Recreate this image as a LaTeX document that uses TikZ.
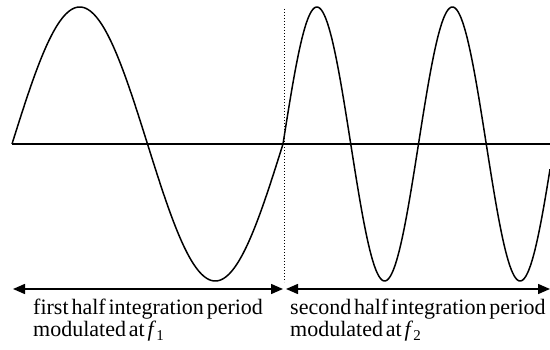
\documentclass[tikz,border=0pt]{standalone}
\usepackage{fontspec}
\setmainfont{Liberation Serif}[WordSpace={0.52,0.1,0.1}]
\usetikzlibrary{arrows.meta}
\tikzset{
  wave/.style={line width=1.5pt, line join=round},
  axisline/.style={line width=1.5pt},
  divider/.style={line width=1pt, dotted},
  span/.style={line width=1.5pt, {Triangle[length=12pt,width=10pt]}-{Triangle[length=12pt,width=10pt]}},
  caption/.style={anchor=base west, align=left, inner sep=0pt,
    font=\fontsize{22}{22}\selectfont}
}
\newcommand{\subidx}[1]{\raisebox{-0.3ex}{\fontsize{15}{15}\selectfont #1}}
\begin{document}
\begin{tikzpicture}[x=1pt,y=-1pt]
\useasboundingbox (0,0) rectangle (550,350);
% axis
\coordinate (axL) at (12,144);
\coordinate (axR) at (550,144);
\draw[axisline] (axL) -- (axR);
% divider
\coordinate (dT) at (284,9);
\coordinate (dB) at (284,282);
\draw[divider] (dT) -- (dB);
% first half: one period
\draw[wave] plot[domain=12:283, samples=200, smooth] (\x, {144-137*sin((\x-12)/271*360)});
% second half: two periods
\draw[wave] plot[domain=283:550, samples=250, smooth] (\x, {144-137*sin((\x-283)/135.5*360)});
% arrows
\coordinate (a1L) at (13,289);
\coordinate (a1R) at (283,289);
\coordinate (a2L) at (286,289);
\coordinate (a2R) at (550,289);
\draw[span] (a1L) -- (a1R);
\draw[span] (a2L) -- (a2R);
% captions
\node[caption] (t1) at (33,337) {first half integration period\\modulated at \textit{f}\subidx{1}};
\node[caption] (t2) at (290,337) {second half integration period\\modulated at \textit{f}\subidx{2}};
\end{tikzpicture}
\end{document}
